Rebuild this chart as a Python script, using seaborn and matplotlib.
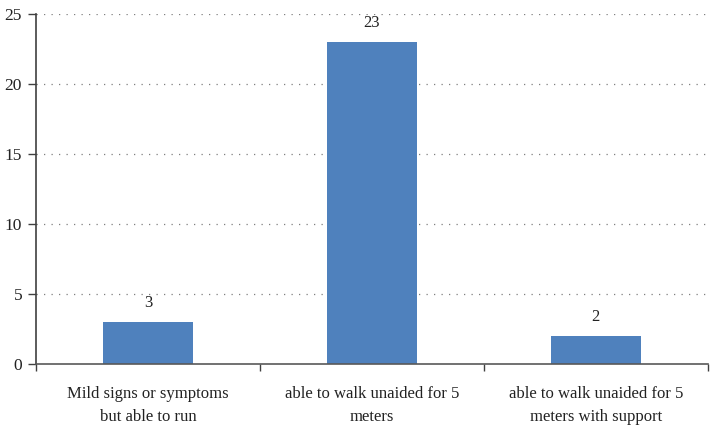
import matplotlib
matplotlib.use("Agg")
import matplotlib.pyplot as plt
import seaborn as sns
import pandas as pd

categories = ["Mild signs or symptoms\nbut able to run",
              "able to walk unaided for 5\nmeters",
              "able to walk unaided for 5\nmeters with support"]
values = [3, 23, 2]
yticks = [0, 5, 10, 15, 20, 25]

sns.set_style("white")
plt.rcParams['font.family'] = ['Liberation Serif', 'DejaVu Serif']

df = pd.DataFrame({"cat": categories, "val": values})

fig = plt.figure(figsize=(7.2, 4.37), dpi=100)
ax = fig.add_axes([0.05, 0.167, 0.933, 0.801])
sns.barplot(data=df, x="cat", y="val", color="#4F81BD", saturation=1, width=0.4, ax=ax, edgecolor="none")

ax.set_xlim(-0.5, 2.5)
ax.set_ylim(0, 25)
ax.set_yticks(yticks)
ax.set_yticklabels([str(t) for t in yticks], fontsize=12.5)
ax.set_xlabel("")
ax.set_ylabel("")
for y in yticks[1:]:
    ax.axhline(y, color="#7f7f7f", linestyle=(0, (1, 5)), linewidth=0.9, zorder=0)

for i, v in enumerate(values):
    ax.text(i, v + 0.8, str(v), ha="center", va="bottom", fontsize=12, color="#222222")

ax.set_xticks(range(len(categories)))
ax.set_xticklabels(categories, fontsize=12, linespacing=1.55, color="#222222")
ax.set_xticks([-0.5, 0.5, 1.5, 2.5], minor=True)
ax.tick_params(axis="x", which="major", length=0, pad=16)
ax.tick_params(axis="x", which="minor", length=5, width=1, direction="out", color="#404040", bottom=True)
ax.tick_params(axis="y", which="major", length=6, width=1, direction="out", left=True, colors="#222222", color="#404040", pad=4)

for s in ["top", "right"]:
    ax.spines[s].set_visible(False)
ax.spines["left"].set_color("#404040")
ax.spines["bottom"].set_color("#595959")
ax.spines["left"].set_linewidth(1.2)
ax.spines["bottom"].set_linewidth(1.2)

fig.savefig("out.png", dpi=100)
